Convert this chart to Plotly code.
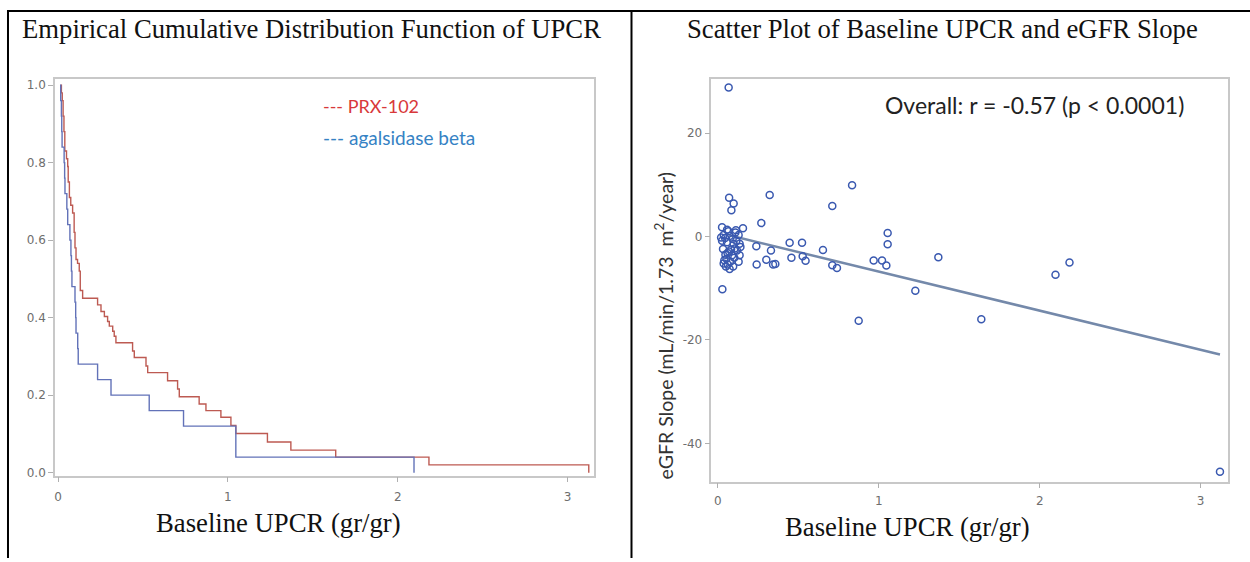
import plotly.graph_objects as go

W, H = 1250, 562

# ---------------- data ----------------
# ECDF step curves (x where step occurs, level after step)
prx_x = [0.014, 0.020, 0.025, 0.030, 0.035, 0.040, 0.050, 0.057, 0.060, 0.067, 0.075, 0.086,
         0.095, 0.100, 0.106, 0.115, 0.125, 0.131, 0.145,
         0.233, 0.253, 0.273, 0.292, 0.302, 0.322, 0.331, 0.341, 0.439, 0.449, 0.518, 0.528,
         0.645, 0.704, 0.714, 0.831, 0.871, 0.959, 1.018, 1.047, 1.233, 1.371, 1.635, 2.184, 3.125]
prx_y = [1.000, 0.980, 0.960, 0.920, 0.880, 0.830, 0.810, 0.790, 0.750, 0.710, 0.690, 0.670,
         0.620, 0.580, 0.550, 0.540, 0.520, 0.470, 0.450,
         0.433, 0.416, 0.403, 0.390, 0.378, 0.365, 0.352, 0.335, 0.314, 0.297, 0.275, 0.258,
         0.237, 0.216, 0.196, 0.177, 0.160, 0.143, 0.122, 0.101, 0.079, 0.058, 0.040, 0.020, 0.000]

aga_x = [0.012, 0.016, 0.020, 0.022, 0.024, 0.036, 0.039, 0.041, 0.052, 0.057, 0.070, 0.076,
         0.079, 0.082, 0.100, 0.104, 0.106, 0.116, 0.119, 0.233, 0.312, 0.537, 0.739, 1.047, 2.096]
aga_y = [1.00, 0.96, 0.92, 0.88, 0.84, 0.80, 0.76, 0.72, 0.68, 0.64, 0.60, 0.56,
         0.52, 0.48, 0.44, 0.40, 0.36, 0.32, 0.28, 0.24, 0.20, 0.16, 0.12, 0.04, 0.00]

# Scatter: baseline UPCR vs eGFR slope
upcr = [0.067, 0.070, 0.098, 0.084, 0.322, 0.270, 0.711, 0.028, 0.156, 0.239, 0.241, 0.301,
        0.330, 0.343, 0.357, 0.446, 0.457, 0.523, 0.527, 0.545, 0.653, 0.711, 0.740, 0.834,
        1.055, 1.055, 0.968, 1.020, 1.047, 1.227, 0.875, 1.370, 1.637, 2.098, 2.185, 3.120,
        0.026, 0.057, 0.109, 0.036, 0.073, 0.129, 0.026, 0.057, 0.098, 0.135, 0.032, 0.082,
        0.119, 0.140, 0.047, 0.088, 0.135, 0.053, 0.102, 0.036, 0.061, 0.078, 0.073, 0.129,
        0.045, 0.066, 0.092, 0.115, 0.040, 0.070, 0.105, 0.060, 0.095, 0.020, 0.112, 0.050]
egfr = [28.8, 7.5, 6.4, 5.1, 8.05, 2.6, 5.9, -10.2, 1.6, -1.9, -5.4, -4.5,
        -2.7, -5.4, -5.3, -1.2, -4.1, -1.2, -3.8, -4.7, -2.6, -5.55, -6.1, 9.9,
        0.7, -1.5, -4.65, -4.65, -5.6, -10.5, -16.3, -4.0, -16.0, -7.4, -5.0, -45.5,
        1.8, 1.3, 0.8, 0.3, 0.1, 0.3, -0.8, -1.1, -1.4, -1.4, -2.4, -2.5,
        -2.7, -2.0, -3.5, -3.6, -3.6, -4.3, -4.1, -5.2, -5.4, -4.9, -6.3, -4.9,
        -0.3, 1.0, -0.5, -0.8, -4.6, -2.9, -2.3, -3.2, -5.8, -0.2, 1.2, -5.8]

fit_x = [0.07, 3.12]
fit_y = [0.25, -22.8]

left_xticks = [0, 1, 2, 3]
left_yticks = [0.0, 0.2, 0.4, 0.6, 0.8, 1.0]
left_yticktext = ["0.0", "0.2", "0.4", "0.6", "0.8", "1.0"]
right_xticks = [0, 1, 2, 3]
right_yticks = [20, 0, -20, -40]
right_yticktext = ["20", "0", "-20", "-40"]

# ---------------- helpers ----------------
def px(x):
    return x / W

def py(y):
    return 1 - y / H

SERIF = "Liberation Serif, Times New Roman, serif"
SANS = "Lato, Carlito, Calibri, sans-serif"
TICKF = dict(family="DejaVu Sans, sans-serif", size=12, color="#6e6e6e")

fig = go.Figure()

fig.add_trace(go.Scatter(x=prx_x, y=prx_y, mode="lines", line_shape="hv",
                         line=dict(color="#bd5a52", width=1.4), xaxis="x", yaxis="y",
                         showlegend=False))
fig.add_trace(go.Scatter(x=aga_x, y=aga_y, mode="lines", line_shape="hv",
                         line=dict(color="#6272b8", width=1.4), xaxis="x", yaxis="y",
                         showlegend=False))

fig.add_trace(go.Scatter(x=fit_x, y=fit_y, mode="lines",
                         line=dict(color="#7489aa", width=2.5), xaxis="x2", yaxis="y2",
                         showlegend=False))
fig.add_trace(go.Scatter(x=upcr, y=egfr, mode="markers",
                         marker=dict(symbol="circle-open", size=7, color="#3a59b0",
                                     line=dict(width=1.5, color="#3a59b0")),
                         xaxis="x2", yaxis="y2", showlegend=False))

axis_common = dict(showline=True, mirror=True, linecolor="#c8c8c8", linewidth=1.5,
                   ticks="outside", ticklen=5, tickcolor="#b0b0b0", tickwidth=1,
                   showgrid=False, zeroline=False, tickfont=TICKF)

fig.update_layout(
    width=W, height=H,
    margin=dict(l=0, r=0, t=0, b=0),
    paper_bgcolor="white", plot_bgcolor="white",
    xaxis=dict(domain=[px(54), px(593)], range=[-0.018, 3.153], anchor="y",
               tickvals=left_xticks, ticklabelstandoff=4, **axis_common),
    yaxis=dict(domain=[py(479), py(79)], range=[-0.008, 1.015], anchor="x",
               tickvals=left_yticks, ticktext=left_yticktext, **axis_common),
    xaxis2=dict(domain=[px(711), px(1228)], range=[-0.04, 3.17], anchor="y2",
                tickvals=right_xticks, ticklabelstandoff=2, **axis_common),
    yaxis2=dict(domain=[py(485), py(79)], range=[-47.4, 30.4], anchor="x2",
                tickvals=right_yticks, ticktext=right_yticktext, **axis_common),
)

ann = []
ann.append(dict(text="Empirical Cumulative Distribution Function of UPCR", x=px(311), y=py(28),
                xref="paper", yref="paper", showarrow=False, xanchor="center", yanchor="middle",
                font=dict(family=SERIF, size=26.7, color="#111111")))
ann.append(dict(text="Scatter Plot of Baseline UPCR and eGFR Slope", x=px(942), y=py(28),
                xref="paper", yref="paper", showarrow=False, xanchor="center", yanchor="middle",
                font=dict(family=SERIF, size=26.7, color="#111111")))
ann.append(dict(text="Baseline UPCR (gr/gr)", x=px(278), y=py(527),
                xref="paper", yref="paper", showarrow=False, xanchor="center", yanchor="middle",
                font=dict(family=SERIF, size=26.7, color="#111111")))
ann.append(dict(text="Baseline UPCR (gr/gr)", x=px(907), y=py(531),
                xref="paper", yref="paper", showarrow=False, xanchor="center", yanchor="middle",
                font=dict(family=SERIF, size=26.7, color="#111111")))
ann.append(dict(text="--- PRX-102", x=px(320), y=py(106),
                xref="paper", yref="paper", showarrow=False, xanchor="left", yanchor="middle",
                font=dict(family=SANS, size=18, color="#d8383a")))
ann.append(dict(text="--- agalsidase beta", x=px(320), y=py(138),
                xref="paper", yref="paper", showarrow=False, xanchor="left", yanchor="middle",
                font=dict(family=SANS, size=19, color="#3582c4")))
ann.append(dict(text="Overall: r = -0.57 (p < 0.0001)", x=px(883), y=py(105),
                xref="paper", yref="paper", showarrow=False, xanchor="left", yanchor="middle",
                font=dict(family=SANS, size=23, color="#222222")))
ann.append(dict(text="eGFR Slope (mL/min/1.73\u00a0\u00a0m<sup>2</sup>/year)", x=px(663), y=py(327),
                xref="paper", yref="paper", showarrow=False, xanchor="center", yanchor="middle",
                textangle=-90, font=dict(family=SANS, size=19.5, color="#333333")))
fig.update_layout(annotations=ann)

shapes = [
    dict(type="line", xref="paper", yref="paper", x0=px(6), x1=1, y0=py(10), y1=py(10),
         line=dict(color="black", width=2)),
    dict(type="line", xref="paper", yref="paper", x0=px(7), x1=px(7), y0=py(10), y1=0,
         line=dict(color="black", width=2)),
    dict(type="line", xref="paper", yref="paper", x0=px(631), x1=px(631), y0=py(10), y1=0,
         line=dict(color="black", width=2)),
]
fig.update_layout(shapes=shapes)

fig.write_html("out.html")
